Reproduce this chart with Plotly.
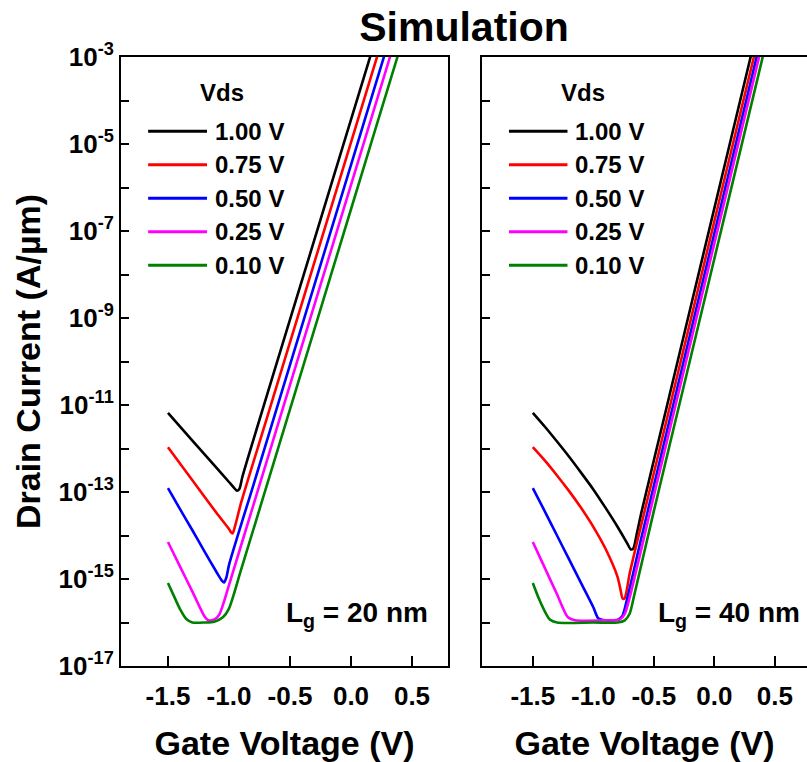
import numpy as np
import plotly.graph_objects as go

# ---------------- data (log10 of drain current, A/um) ----------------
vds_labels = ["1.00 V", "0.75 V", "0.50 V", "0.25 V", "0.10 V"]
colors = ["#000000", "#ff0000", "#0000ff", "#ff00ff", "#008000"]

# Lg = 20 nm
vg20_v100 = [-1.5, -1.3, -1.1, -1.0, -0.96, -0.935, -0.915, -0.89, -0.8, -0.5, -0.2, 0.2]
lg20_v100 = [-11.18, -11.82, -12.45, -12.77, -12.90, -12.97, -12.93, -12.65, -11.80, -9.04, -6.28, -2.60]
vg20_v075 = [-1.5, -1.3, -1.1, -1.0, -0.985, -0.97, -0.95, -0.9, -0.7, -0.4, 0.0, 0.25]
lg20_v075 = [-11.97, -12.73, -13.49, -13.85, -13.92, -13.95, -13.78, -13.24, -11.40, -8.64, -4.96, -2.66]
vg20_v050 = [-1.5, -1.4, -1.3, -1.2, -1.1, -1.06, -1.04, -1.02, -1.0, -0.8, -0.5, -0.2, 0.1, 0.3]
lg20_v050 = [-12.91, -13.40, -13.88, -14.37, -14.85, -15.03, -15.08, -14.95, -14.68, -12.84, -10.08, -7.32, -4.56, -2.72]
vg20_v025 = [-1.5, -1.4, -1.3, -1.2, -1.17, -1.12, -1.08, -1.05, -1.0, -0.8, -0.5, -0.2, 0.1, 0.35]
lg20_v025 = [-14.15, -14.72, -15.29, -15.86, -15.95, -15.93, -15.82, -15.60, -15.14, -13.30, -10.54, -7.78, -5.02, -2.72]
vg20_v010 = [-1.5, -1.45, -1.4, -1.35, -1.3, -1.2, -1.12, -1.05, -1.0, -0.9, -0.6, -0.3, 0.0, 0.2, 0.45]
lg20_v010 = [-15.09, -15.40, -15.70, -15.92, -16.0, -16.0, -15.98, -15.88, -15.68, -14.78, -12.02, -9.26, -6.50, -4.66, -2.36]

# Lg = 40 nm
vg40_v100 = [-1.5, -1.4, -1.3, -1.2, -1.1, -1.0, -0.9, -0.8, -0.72, -0.69, -0.67, -0.64, -0.6, -0.4, -0.2, 0.0, 0.2, 0.35]
lg40_v100 = [-11.18, -11.50, -11.84, -12.19, -12.56, -12.94, -13.36, -13.80, -14.18, -14.32, -14.30, -13.95, -13.44, -11.12, -8.80, -6.48, -4.16, -2.42]
vg40_v075 = [-1.5, -1.4, -1.3, -1.2, -1.1, -1.0, -0.9, -0.8, -0.775, -0.758, -0.742, -0.72, -0.7, -0.5, -0.2, 0.1, 0.4]
lg40_v075 = [-11.97, -12.28, -12.62, -12.98, -13.37, -13.80, -14.30, -14.95, -15.25, -15.45, -15.45, -15.20, -14.88, -12.57, -9.10, -5.62, -2.16]
vg40_v050 = [-1.5, -1.4, -1.3, -1.2, -1.1, -1.0, -0.96, -0.9, -0.8, -0.76, -0.72, -0.6, -0.3, 0.0, 0.2, 0.42]
lg40_v050 = [-12.91, -13.45, -14.00, -14.55, -15.10, -15.65, -15.90, -15.95, -15.94, -15.85, -15.45, -14.02, -10.54, -7.06, -4.74, -2.19]
vg40_v025 = [-1.5, -1.4, -1.3, -1.21, -1.15, -0.9, -0.78, -0.74, -0.7, -0.5, -0.2, 0.1, 0.44]
lg40_v025 = [-14.15, -14.75, -15.35, -15.88, -15.95, -15.95, -15.93, -15.80, -15.43, -13.09, -9.61, -6.13, -2.19]
vg40_v010 = [-1.5, -1.45, -1.4, -1.36, -1.3, -1.0, -0.8, -0.74, -0.7, -0.66, -0.5, -0.2, 0.1, 0.45]
lg40_v010 = [-15.09, -15.45, -15.75, -15.93, -16.0, -16.0, -16.0, -15.95, -15.80, -15.35, -13.44, -9.96, -6.48, -2.42]

panel_labels = ["L<sub>g</sub> = 20 nm", "L<sub>g</sub> = 40 nm"]
x_tick_vals = [-1.5, -1.0, -0.5, 0.0, 0.5]
x_tick_text = ["-1.5", "-1.0", "-0.5", "0.0", "0.5"]
y_major_exponents = [-17, -15, -13, -11, -9, -7, -5, -3]
y_minor_exponents = [-16, -14, -12, -10, -8, -6, -4]

panels = [
    [(vg20_v100, lg20_v100), (vg20_v075, lg20_v075), (vg20_v050, lg20_v050),
     (vg20_v025, lg20_v025), (vg20_v010, lg20_v010)],
    [(vg40_v100, lg40_v100), (vg40_v075, lg40_v075), (vg40_v050, lg40_v050),
     (vg40_v025, lg40_v025), (vg40_v010, lg40_v010)],
]

FONT = "Liberation Sans, Arial, sans-serif"
W, H = 807, 762
ML, MR, MT, MB = 121, 0, 57, 96

fig = go.Figure()
for p, curves in enumerate(panels):
    xa = "x" if p == 0 else "x2"
    ya = "y" if p == 0 else "y2"
    for (vg, lg), c, name in zip(curves, colors, vds_labels):
        fig.add_trace(go.Scatter(
            x=vg, y=[10.0 ** v for v in lg], mode="lines", name=name,
            line=dict(color=c, width=2.6, shape="spline", smoothing=0.7),
            xaxis=xa, yaxis=ya, showlegend=False, hoverinfo="skip"))

plot_w = W - ML - MR
dom1 = [0, (448 - ML) / plot_w]
dom2 = [(482 - ML) / plot_w, 1]

y_tickvals = [10.0 ** e for e in y_major_exponents]
y_ticktext = ["10<sup>%d</sup>" % e for e in y_major_exponents]
y_minorvals = [10.0 ** e for e in y_minor_exponents]
y_minor = dict(tickmode="array", tickvals=y_minorvals, ticks="inside", ticklen=8,
               tickwidth=2, tickcolor="black", showgrid=False)

axis_common = dict(showline=True, linecolor="black", linewidth=2, ticks="inside",
                   tickcolor="black", tickwidth=2, showgrid=False, zeroline=False,
                   automargin=False)
tick_font = dict(family=FONT, size=26, color="black", weight="bold")
title_font = dict(family=FONT, size=34, color="black", weight="bold")

fig.update_layout(
    width=W, height=H, margin=dict(l=ML, r=MR, t=MT, b=MB, autoexpand=False),
    paper_bgcolor="white", plot_bgcolor="white", showlegend=False,
    title=dict(text="Simulation", x=0.5, xref="paper", y=0.965, yanchor="middle",
               automargin=False,
               font=dict(family=FONT, size=41, color="black", weight="bold")),
    xaxis=dict(domain=dom1, range=[-1.885, 0.795], mirror=True, ticklen=10,
               tickmode="array", tickvals=x_tick_vals, ticktext=x_tick_text,
               tickfont=tick_font, ticklabelstandoff=6,
               title=dict(text="Gate Voltage (V)", standoff=22, font=title_font),
               **axis_common),
    xaxis2=dict(domain=dom2, range=[-1.92, 0.766], mirror=True, ticklen=10, anchor="y2",
                tickmode="array", tickvals=x_tick_vals, ticktext=x_tick_text,
                tickfont=tick_font, ticklabelstandoff=6,
                title=dict(text="Gate Voltage (V)", standoff=22, font=title_font),
                **axis_common),
    yaxis=dict(type="log", range=[-17, -3], mirror=True, ticklen=8,
               tickmode="array", tickvals=y_tickvals, ticktext=y_ticktext,
               tickfont=tick_font, minor=y_minor,
               title=dict(text="Drain Current (A/µm)", standoff=8, font=title_font),
               **axis_common),
    yaxis2=dict(type="log", range=[-17, -3], mirror=False, ticklen=8, anchor="x2",
                tickmode="array", tickvals=y_tickvals, showticklabels=False,
                minor=y_minor, **axis_common),
)

# manual legends (one per panel)
leg_rows = [0.878, 0.823, 0.768, 0.713, 0.658]
for p in range(2):
    xr = "x domain" if p == 0 else "x2 domain"
    yr = "y domain" if p == 0 else "y2 domain"
    fig.add_annotation(text="Vds", xref=xr, yref=yr, x=0.31, y=0.942, showarrow=False,
                       xanchor="center", yanchor="middle",
                       font=dict(family=FONT, size=24, color="black", weight="bold"))
    for yy, c, name in zip(leg_rows, colors, vds_labels):
        fig.add_shape(type="line", xref=xr, yref=yr, x0=0.083, x1=0.263, y0=yy, y1=yy,
                      line=dict(color=c, width=3))
        fig.add_annotation(text=name, xref=xr, yref=yr, x=0.28, y=yy, showarrow=False,
                           xanchor="left", yanchor="middle",
                           font=dict(family=FONT, size=24, color="black", weight="bold"))
    fig.add_annotation(text=panel_labels[p], xref=xr, yref=yr,
                       x=0.945 if p == 0 else 0.985, y=0.085, showarrow=False,
                       xanchor="right", yanchor="middle",
                       font=dict(family=FONT, size=28, color="black", weight="bold"))

fig.write_html("out.html", config={"displayModeBar": False},
               post_script="document.body.style.margin='0';document.body.style.overflow='hidden';")
